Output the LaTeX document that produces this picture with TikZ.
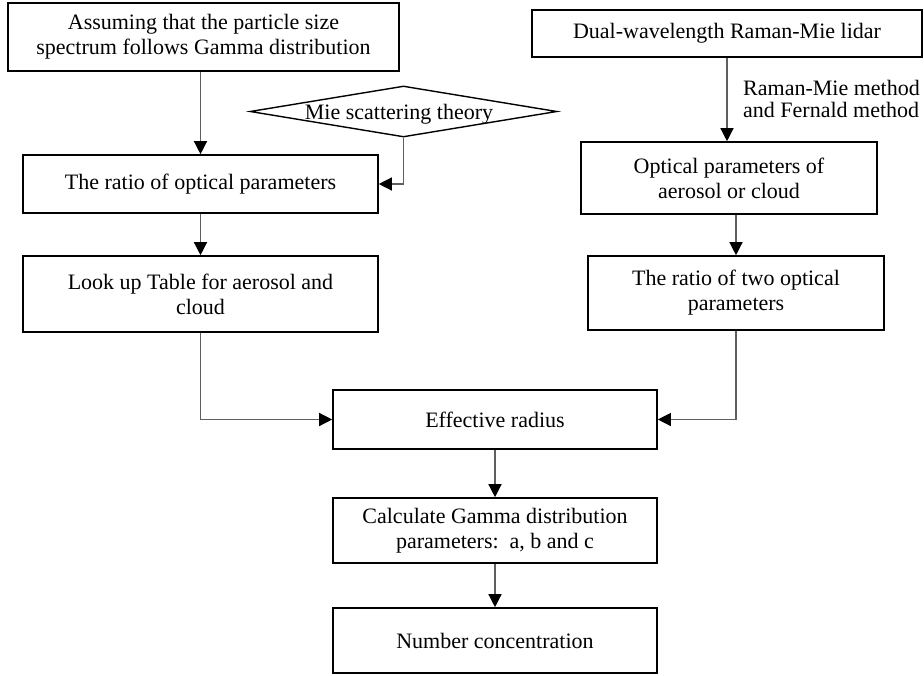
\documentclass[tikz,border=0pt]{standalone}
\usepackage{fontspec}
\setmainfont{Liberation Serif}
\usetikzlibrary{arrows.meta,shapes.geometric}
\definecolor{conn}{RGB}{95,95,95}
\begin{document}
\begin{tikzpicture}[x=1pt,y=-1pt,
  box/.style={draw=black,line width=1.6pt,rectangle,inner sep=0pt,align=center,
    font=\fontsize{22}{25}\selectfont},
  flow/.style={draw=conn,line width=1.3pt,-{Triangle[length=13pt,width=13pt,color=black]}},
  txt/.style={font=\fontsize{22}{25}\selectfont,inner sep=0pt}]
\useasboundingbox (0,0) rectangle (924,675);
% nodes
\node[box,minimum width=391pt,minimum height=68pt] (assume) at (203.5,37)
  {Assuming that the particle size\\spectrum follows Gamma distribution};
\node[box,minimum width=390pt,minimum height=47pt] (dual) at (727,33.5)
  {Dual-wavelength Raman-Mie lidar};
\node[diamond,draw=black,line width=1.4pt,inner sep=0pt,minimum width=307pt,minimum height=51pt] (mie) at (403.5,111.5) {};
\node[txt] (mietxt) at (399,114) {Mie scattering theory};
\node[box,minimum width=355pt,minimum height=58pt] (ratio) at (200.5,184)
  {The ratio of optical parameters};
\node[box,minimum width=296pt,minimum height=72pt] (optical) at (729,178)
  {Optical parameters of\\aerosol or cloud};
\node[txt,anchor=west,align=left,font=\fontsize{22}{21.5}\selectfont] (method) at (743,99)
  {Raman-Mie method\\and Fernald method};
\node[box,minimum width=355pt,minimum height=76pt] (lookup) at (200.5,294)
  {Look up Table for aerosol and\\cloud};
\node[box,minimum width=296pt,minimum height=74pt] (ratio2) at (736,293)
  {The ratio of two optical\\parameters};
\node[box,minimum width=324pt,minimum height=59pt] (eff) at (495,419.5)
  {Effective radius};
\node[box,minimum width=324pt,minimum height=65pt] (calc) at (495,530.5)
  {Calculate Gamma distribution\\parameters:\ \ a, b and c};
\node[box,minimum width=324pt,minimum height=65pt] (num) at (495,640.5)
  {Number concentration};
% connectors
\draw[flow] (ratio.north |- assume.south) -- (ratio.north);
\draw[flow] (mie.south) |- (ratio.east);
\draw[flow] (ratio.south) -- (lookup.north);
\draw[flow] (lookup.south) |- (eff.west);
\draw[flow] (dual.south) -- (dual.south |- optical.north);
\draw[flow] (ratio2.north |- optical.south) -- (ratio2.north);
\draw[flow] (ratio2.south) |- (eff.east);
\draw[flow] (eff.south) -- (calc.north);
\draw[flow] (calc.south) -- (num.north);
\end{tikzpicture}
\end{document}
